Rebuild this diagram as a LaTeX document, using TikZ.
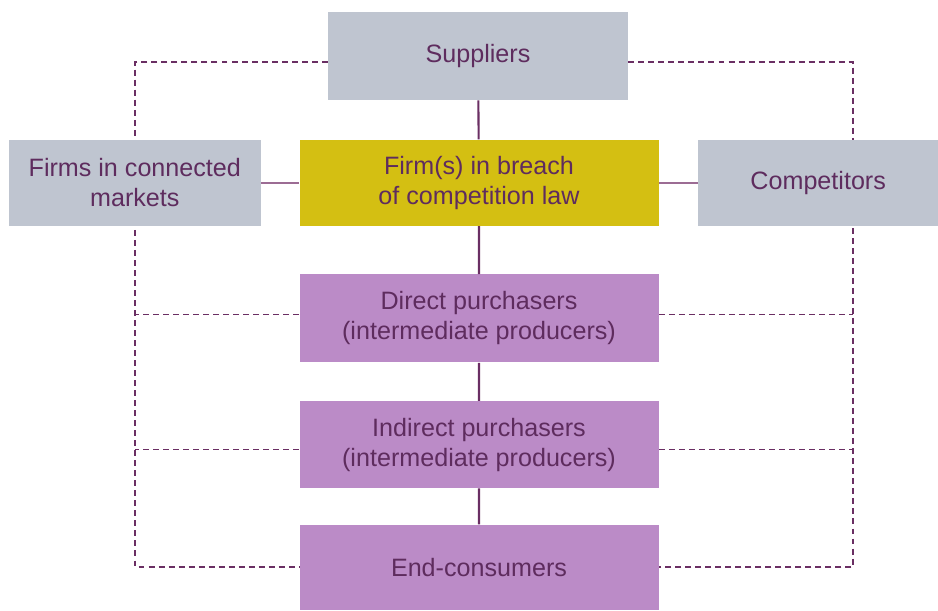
\documentclass[tikz,border=0pt]{standalone}
\usepackage{fontspec}
\setmainfont{Liberation Sans}
\usetikzlibrary{positioning,backgrounds}

\definecolor{plum}{HTML}{5E2C5E}
\definecolor{linkcol}{HTML}{6A2E63}
\definecolor{sidecol}{HTML}{9C6C94}
\definecolor{greybox}{HTML}{BFC5D0}
\definecolor{breach}{HTML}{D4BF12}
\definecolor{buyer}{HTML}{BB8BC7}

\tikzset{
  box/.style={rectangle, inner sep=0pt, align=center, text=plum,
    font=\fontsize{14.3}{17}\selectfont},
  greyb/.style={box, fill=greybox},
  buyerb/.style={box, fill=buyer, minimum width=7.18cm},
  chain/.style={draw=linkcol, line width=1.2pt},
  sidelink/.style={draw=sidecol, line width=0.9pt},
  dashline/.style={draw=linkcol, line width=0.7pt, dash pattern=on 3.4pt off 2.3pt}
}

\begin{document}
\begin{tikzpicture}
  \useasboundingbox (0,0) rectangle (18.76,-12.2);

  \node[greyb, minimum width=6cm, minimum height=1.76cm] (sup) at (9.56,-1.12) {\raisebox{-0.06cm}{Suppliers}};
  \node[box, fill=breach, minimum width=7.18cm, minimum height=1.72cm, below=0.78cm of sup, xshift=0.02cm] (firm) {Firm(s) in breach\\of competition law};
  \node[greyb, minimum width=5.04cm, minimum height=1.72cm, left=0.76cm of firm] (conn) {Firms in connected\\markets};
  \node[greyb, minimum width=4.8cm, minimum height=1.72cm, right=0.78cm of firm] (comp) {Competitors};
  \node[buyerb, minimum height=1.76cm, below=0.96cm of firm] (dir) {Direct purchasers\\(intermediate producers)};
  \node[buyerb, minimum height=1.74cm, below=0.76cm of dir] (ind) {Indirect purchasers\\(intermediate producers)};
  \node[buyerb, minimum height=1.7cm, below=0.72cm of ind] (end) {End-consumers};

  \coordinate (lc) at (2.7,-11.34);
  \coordinate (rc) at (17.06,-11.34);

  % supply chain
  \path[chain] (sup) -- (firm) -- (dir) -- (ind) -- (end);
  \path[sidelink] (conn) -- (firm);
  \path[sidelink] (firm) -- (comp);

  % dashed frame behind the boxes
  \begin{scope}[on background layer]
    \path[dashline] ([yshift=-0.12cm]sup.west) -| (lc) -- (end.west |- lc);
    \path[dashline] ([yshift=-0.12cm]sup.east) -| (rc) -- (end.east |- rc);
    \path[dashline] ([yshift=0.08cm]dir.west) -- ([yshift=0.08cm]dir.west -| lc);
    \path[dashline] ([yshift=0.08cm]dir.east) -- ([yshift=0.08cm]dir.east -| rc);
    \path[dashline] ([yshift=-0.09cm]ind.west) -- ([yshift=-0.09cm]ind.west -| lc);
    \path[dashline] ([yshift=-0.09cm]ind.east) -- ([yshift=-0.09cm]ind.east -| rc);
  \end{scope}
\end{tikzpicture}
\end{document}
